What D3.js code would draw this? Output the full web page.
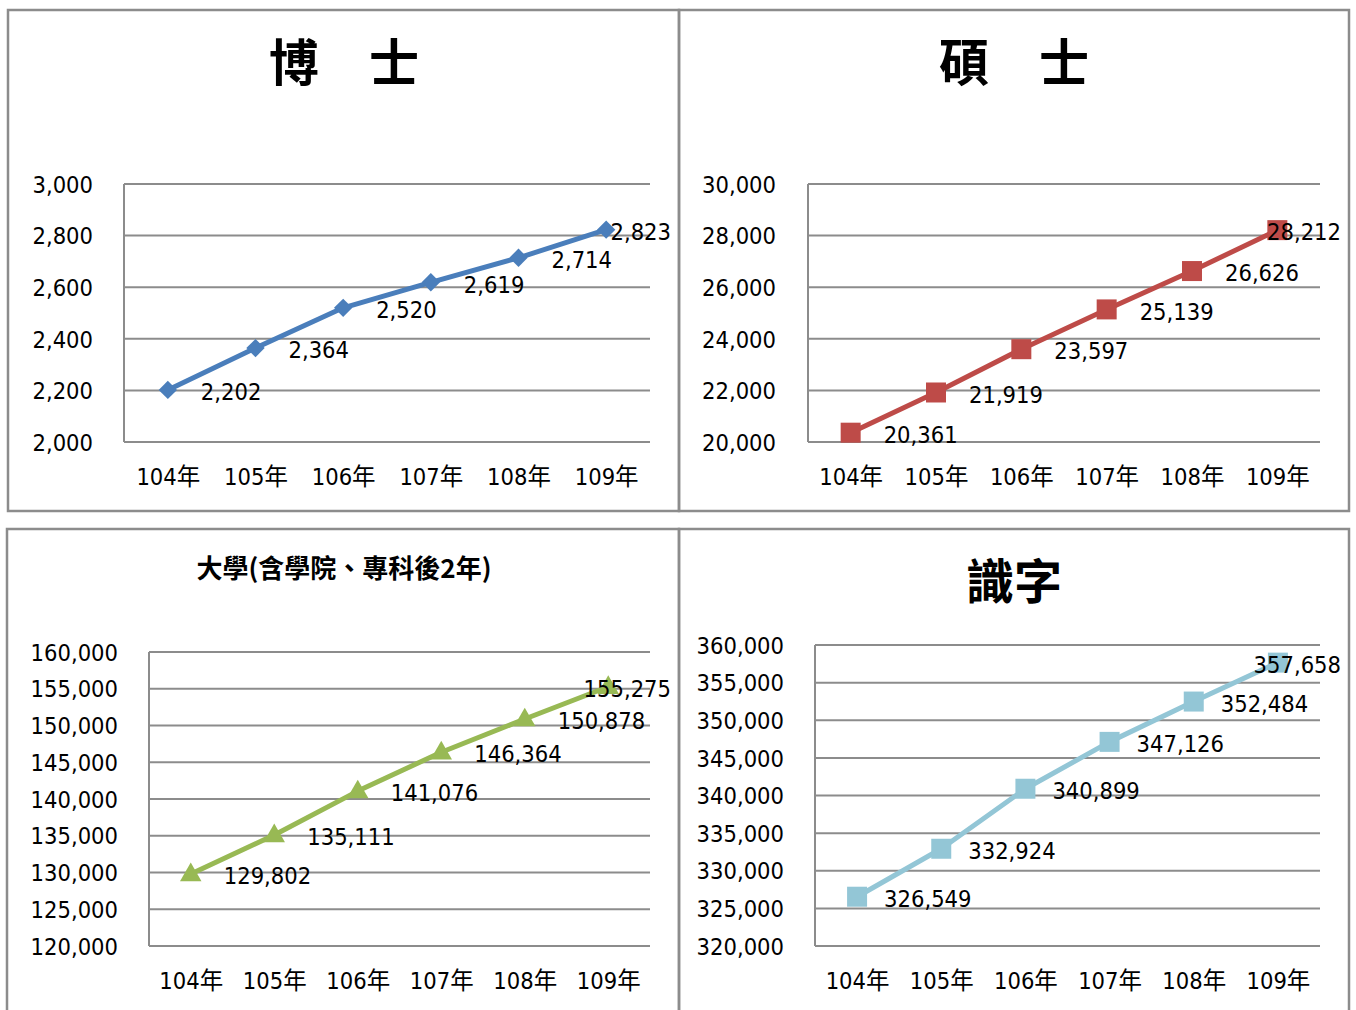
<!DOCTYPE html>
<html>
<head>
<meta charset="utf-8">
<script src="https://cdn.jsdelivr.net/npm/d3@7"></script>
<style>
  html, body { margin: 0; padding: 0; background: #fff; }
  svg { display: block; }
  .num { font-family: "DejaVu Sans Condensed", "Liberation Sans Narrow", "Noto Sans CJK TC", sans-serif; fill: #000; }
</style>
</head>
<body>
<svg id="chart" width="1356" height="1010"></svg>
<script>
// ---- data ----
const years = ["104年", "105年", "106年", "107年", "108年", "109年"];

const phdValues = [2202, 2364, 2520, 2619, 2714, 2823];
const masterValues = [20361, 21919, 23597, 25139, 26626, 28212];
const univValues = [129802, 135111, 141076, 146364, 150878, 155275];
const literateValues = [326549, 332924, 340899, 347126, 352484, 357658];

const phdTicks = [2000, 2200, 2400, 2600, 2800, 3000];
const masterTicks = [20000, 22000, 24000, 26000, 28000, 30000];
const univTicks = [120000, 125000, 130000, 135000, 140000, 145000, 150000, 155000, 160000];
const literateTicks = [320000, 325000, 330000, 335000, 340000, 345000, 350000, 355000, 360000];

const titles = ["博　士", "碩　士", "大學(含學院、專科後2年)", "識字"];

// ---- layout ----
const svg = d3.select("#chart");
const fmt = d3.format(",");
const gridColor = "#8c8c8c";
const numSize = 23.5;

const panels = [
  { title: titles[0], values: phdValues, ticks: phdTicks, color: "#4A7EBB", marker: "diamond",
    box: [8, 10, 679, 511], plot: [124, 650, 184, 442], tickX: 93, catY: 477,
    titleX: 344, titleY: 59, titleSize: 50, labelOff: 33 },
  { title: titles[1], values: masterValues, ticks: masterTicks, color: "#BE4B48", marker: "square",
    box: [679, 10, 1349, 511], plot: [808, 1320, 184, 442], tickX: 776, catY: 477,
    titleX: 1014, titleY: 59, titleSize: 50, labelOff: 33 },
  { title: titles[2], values: univValues, ticks: univTicks, color: "#98B954", marker: "triangle",
    box: [7, 529, 679, 1012], plot: [149, 650, 652, 946], tickX: 118, catY: 981,
    titleX: 344, titleY: 566, titleSize: 26, labelOff: 33 },
  { title: titles[3], values: literateValues, ticks: literateTicks, color: "#93C6D6", marker: "square",
    box: [679, 529, 1349, 1012], plot: [815, 1320, 645, 946], tickX: 784, catY: 981,
    titleX: 1014, titleY: 578, titleSize: 48, labelOff: 27 }
];

panels.forEach(p => {
  const g = svg.append("g");
  const [bx0, by0, bx1, by1] = p.box;
  g.append("rect").attr("x", bx0).attr("y", by0).attr("width", bx1 - bx0).attr("height", by1 - by0)
    .attr("fill", "none").attr("stroke", gridColor).attr("stroke-width", 2.5);

  const [x0, x1, y0, y1] = p.plot;
  const x = d3.scalePoint().domain(years).range([x0, x1]).padding(0.5);
  const y = d3.scaleLinear().domain([p.ticks[0], p.ticks[p.ticks.length - 1]]).range([y1, y0]);

  // title
  g.append("text").attr("x", p.titleX).attr("y", p.titleY)
    .attr("text-anchor", "middle").attr("dominant-baseline", "central")
    .attr("font-family", "'Noto Sans CJK TC', 'Noto Sans CJK SC', sans-serif")
    .attr("font-weight", "bold").attr("font-size", p.titleSize)
    .text(p.title);

  // gridlines
  g.selectAll("line.grid").data(p.ticks).enter().append("line")
    .attr("x1", x0).attr("x2", x1).attr("y1", d => y(d)).attr("y2", d => y(d))
    .attr("stroke", gridColor).attr("stroke-width", 2);
  // y axis line
  g.append("line").attr("x1", x0).attr("x2", x0).attr("y1", y0).attr("y2", y1)
    .attr("stroke", gridColor).attr("stroke-width", 2);

  // y tick labels via d3 axis
  const yAxis = d3.axisLeft(y).tickValues(p.ticks).tickFormat(fmt).tickSize(0).tickPadding(0);
  const ya = g.append("g").attr("transform", `translate(${p.tickX},0)`).call(yAxis);
  ya.select(".domain").remove();
  ya.selectAll("text").attr("class", "num").attr("font-size", numSize).attr("fill", "#000")
    .attr("font-family", null).attr("dy", "0.35em");

  // x category labels via d3 axis
  const xAxis = d3.axisBottom(x).tickSize(0).tickPadding(0);
  const xa = g.append("g").attr("transform", `translate(0,${p.catY})`).call(xAxis);
  xa.select(".domain").remove();
  xa.selectAll("text").attr("class", "num").attr("font-size", numSize).attr("fill", "#000")
    .attr("font-family", null).attr("dy", "0.35em");

  // line
  const line = d3.line().x((d, i) => x(years[i])).y(d => y(d));
  g.append("path").datum(p.values).attr("d", line)
    .attr("fill", "none").attr("stroke", p.color).attr("stroke-width", 5)
    .attr("stroke-linejoin", "round");

  // markers
  let sym, rot = 0;
  if (p.marker === "diamond") { sym = d3.symbol().type(d3.symbolSquare).size(169); rot = 45; }
  else if (p.marker === "square") { sym = d3.symbol().type(d3.symbolSquare).size(400); }
  else { sym = d3.symbol().type(d3.symbolTriangle).size(200); }
  g.selectAll("path.mk").data(p.values).enter().append("path")
    .attr("d", sym)
    .attr("transform", (d, i) => `translate(${x(years[i])},${y(d) + (p.marker === "triangle" ? 1 : 0)}) rotate(${rot})`)
    .attr("fill", p.color);

  // data labels
  g.selectAll("text.lbl").data(p.values).enter().append("text")
    .attr("class", "num lbl").attr("font-size", numSize)
    .attr("y", d => y(d) + 2).attr("dy", "0.35em")
    .text(d => fmt(d))
    .each(function (d, i) {
      const w = this.getComputedTextLength();
      const lx = Math.min(x(years[i]) + p.labelOff, bx1 - 8 - w);
      d3.select(this).attr("x", lx);
    });
});
</script>
</body>
</html>
